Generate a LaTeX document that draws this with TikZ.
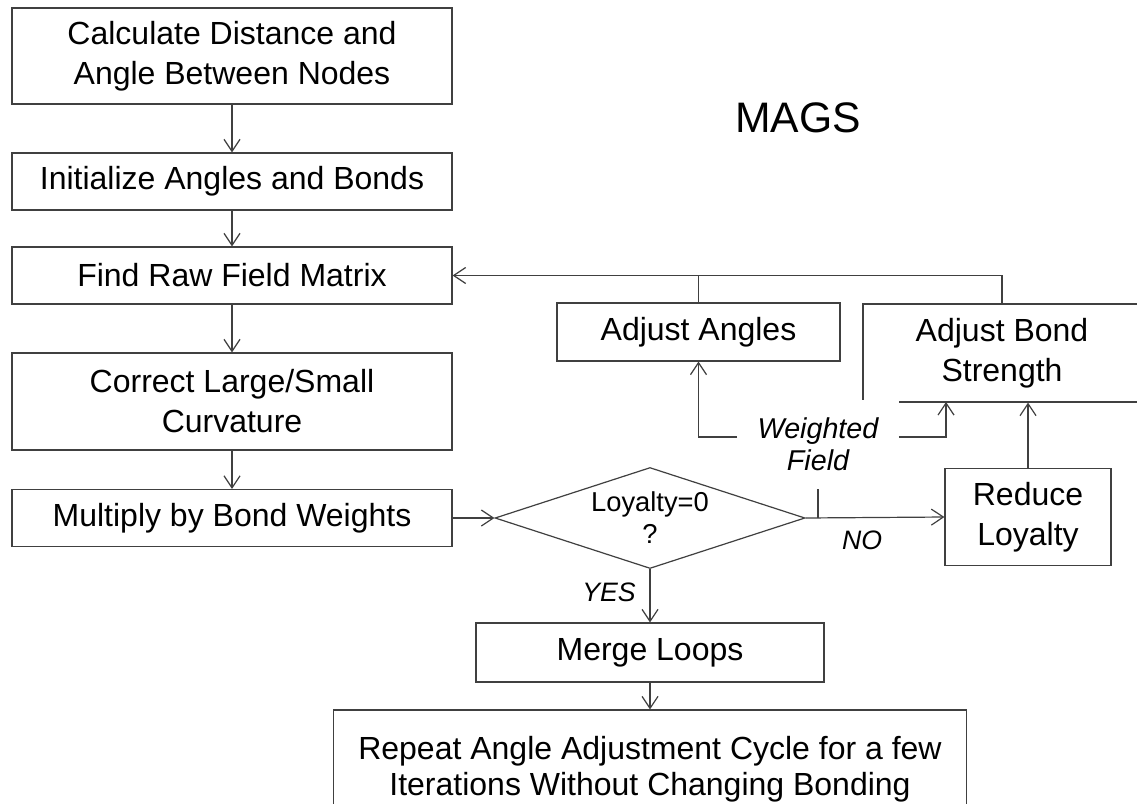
\documentclass[tikz,border=0pt]{standalone}
\usepackage{fontspec}
\setmainfont{Liberation Sans}
\usetikzlibrary{arrows.meta,shapes.geometric,calc}
\definecolor{linec}{HTML}{404040}
\begin{document}
\begin{tikzpicture}[x=0.75pt,y=-0.75pt,
  box/.style={draw=linec, line width=0.9pt, inner sep=0pt, align=center,
    minimum width=330pt, minimum height=42.75pt,
    font=\fontsize{24}{30}\selectfont},
  dia/.style={draw=linec, line width=0.9pt, shape=diamond, aspect=3.07, inner sep=0pt,
    align=center, minimum width=232.5pt, minimum height=75.75pt,
    font=\fontsize{20.5}{24}\selectfont},
  lab/.style={inner sep=0pt, align=center, font=\fontsize{21.5}{24}\selectfont\itshape},
  lbl/.style={inner sep=0pt, font=\fontsize{20}{24}\selectfont\itshape},
  arr/.style={draw=linec, line width=0.9pt, -{Straight Barb[length=9pt,width=12pt]}},
  ln/.style={draw=linec, line width=0.9pt}]
\clip (0,0) rectangle (1137,803);
\fill[white] (0,0) rectangle (1137,803);

\node[box, minimum height=72pt] (b1) at (232,56) {Calculate Distance and\\Angle Between Nodes};
\node[box] (b2) at (232,181.5) {Initialize Angles and Bonds};
\node[box] (b3) at (232,275.5) {Find Raw Field Matrix};
\node[box, minimum height=72.75pt] (b4) at (232,401.5) {Correct Large/Small\\Curvature};
\node[box] (b5) at (232,518) {Multiply by Bond Weights};
\node[dia] (dia) at (650,518) {Loyalty=0\\?};
\node[box, minimum width=124.5pt, minimum height=72.75pt] (red) at (1028,517) {Reduce\\Loyalty};
\node[box, minimum width=212.25pt, minimum height=43.5pt] (ang) at (698.5,332) {Adjust Angles};
\node[box, minimum width=208.5pt, minimum height=73.5pt] (bond) at (1002,353) {Adjust Bond\\Strength};
\node[lab, fill=white, minimum width=120.75pt, minimum height=66.75pt] (wf) at (818,444.5) {Weighted\\Field};
\node[box, minimum width=261pt, minimum height=44.25pt] (merge) at (650,652.5) {Merge Loops};
\node[box, minimum width=474.75pt, minimum height=88.5pt, font=\fontsize{24}{27}\selectfont] (fin) at (650,769) {Repeat Angle Adjustment Cycle for a few\\Iterations Without Changing Bonding};
\node[inner sep=0pt, font=\fontsize{32}{38}\selectfont] (title) at (798,118) {MAGS};
\node[lbl] (yes) at (609,592) {YES};
\node[lbl] (no) at (862,540) {NO};
\coordinate (bsa) at (946,402);

\draw[arr] (b1) -- (b2);
\draw[arr] (b2) -- (b3);
\draw[arr] (b3) -- (b4);
\draw[arr] (b4) -- (b5);
\draw[arr] (b5) -- (dia);
\draw[arr] (dia.east) -- (red.west);
\draw[arr] (dia.south) -- (dia.south |- merge.north);
\draw[arr] (merge) -- (fin);
\draw[arr] (red) -- (red |- bond.south);
\draw[arr] ([yshift=5.6pt]wf.west) -| (ang.south);
\draw[arr] ([yshift=5.6pt]wf.east) -| (bsa);
\draw[ln] (wf.south) -- (wf.south |- dia.east);
\draw[ln] (ang.north) -- (ang.north |- b3.east);
\draw[arr] (bond.north) |- (b3.east);
\end{tikzpicture}
\end{document}
